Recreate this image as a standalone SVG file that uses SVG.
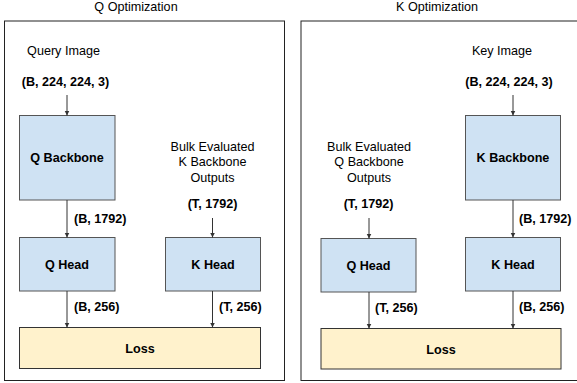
<svg xmlns="http://www.w3.org/2000/svg" width="577" height="383" viewBox="0 0 577 383">
<defs>
<marker id="ah" markerWidth="6" markerHeight="6" refX="5" refY="3" orient="auto" markerUnits="userSpaceOnUse">
<path d="M0,0.5 L5,3 L0,5.5 Z" fill="#333"/>
</marker>
</defs>
<style>
text{font-family:"Liberation Sans",Arial,sans-serif;font-size:12.6px;fill:#000}
.b{font-weight:bold}
.m{text-anchor:middle}
.frame{fill:#fff;stroke:#222;stroke-width:1}
.blue{fill:#cfe2f3;stroke:#555;stroke-width:1}
.loss{fill:#fff2cc;stroke:#333;stroke-width:1}
.c{stroke:#333;stroke-width:1;fill:none;marker-end:url(#ah)}
</style>
<rect width="577" height="383" fill="#fff"/>

<g id="panel-q">
<rect class="frame" x="4.5" y="21" width="280" height="359.5"/>
<text class="m" x="136" y="11">Q Optimization</text>
<text class="m" x="63.5" y="55">Query Image</text>
<text class="b m" x="65.5" y="86">(B, 224, 224, 3)</text>
<text class="m" x="212.5" y="151">Bulk Evaluated</text>
<text class="m" x="212.5" y="166">K Backbone</text>
<text class="m" x="212.5" y="181.5">Outputs</text>
<text class="b m" x="212.5" y="208">(T, 1792)</text>
<text class="b" x="74" y="223">(B, 1792)</text>
<text class="b" x="74" y="311">(B, 256)</text>
<text class="b" x="219" y="311">(T, 256)</text>
</g>
<g id="q-backbone">
<rect class="blue" x="19.5" y="115.5" width="95.5" height="84.5"/>
<text class="b m" x="67" y="162">Q Backbone</text>
</g>
<g id="q-head-left">
<rect class="blue" x="19.5" y="237.5" width="95.5" height="53.5"/>
<text class="b m" x="67" y="269">Q Head</text>
</g>
<g id="k-head-left">
<rect class="blue" x="165.5" y="237.5" width="95" height="53.5"/>
<text class="b m" x="213" y="269">K Head</text>
</g>
<g id="loss-left">
<rect class="loss" x="19.5" y="327.5" width="241" height="41"/>
<text class="b m" x="140" y="353">Loss</text>
</g>

<g id="panel-k">
<rect class="frame" x="301" y="21" width="280" height="359.5"/>
<text class="m" x="437" y="11">K Optimization</text>
<text class="m" x="502" y="55">Key Image</text>
<text class="b m" x="509" y="86">(B, 224, 224, 3)</text>
<text class="m" x="369" y="151">Bulk Evaluated</text>
<text class="m" x="369" y="166">Q Backbone</text>
<text class="m" x="369" y="181.5">Outputs</text>
<text class="b m" x="368.5" y="208">(T, 1792)</text>
<text class="b" x="519" y="223">(B, 1792)</text>
<text class="b" x="375" y="312">(T, 256)</text>
<text class="b" x="519" y="311">(B, 256)</text>
</g>
<g id="k-backbone">
<rect class="blue" x="465.5" y="115.5" width="95" height="84.5"/>
<text class="b m" x="513" y="162">K Backbone</text>
</g>
<g id="q-head-right">
<rect class="blue" x="321" y="238.5" width="95" height="53.5"/>
<text class="b m" x="368.5" y="270">Q Head</text>
</g>
<g id="k-head-right">
<rect class="blue" x="465.5" y="237.5" width="95" height="53.5"/>
<text class="b m" x="513" y="269">K Head</text>
</g>
<g id="loss-right">
<rect class="loss" x="321" y="328.5" width="240" height="40.5"/>
<text class="b m" x="441" y="354">Loss</text>
</g>

<g id="connectors">
<line class="c" x1="67" y1="95" x2="67" y2="115.5"/>
<line class="c" x1="67" y1="200" x2="67" y2="237.5"/>
<line class="c" x1="212.5" y1="218" x2="212.5" y2="237.5"/>
<line class="c" x1="67" y1="291" x2="67" y2="327.5"/>
<line class="c" x1="212.5" y1="291" x2="212.5" y2="327.5"/>
<line class="c" x1="513" y1="95" x2="513" y2="115.5"/>
<line class="c" x1="513" y1="200" x2="513" y2="237.5"/>
<line class="c" x1="369" y1="218" x2="369" y2="238.5"/>
<line class="c" x1="369" y1="292" x2="369" y2="328.5"/>
<line class="c" x1="513" y1="291" x2="513" y2="328.5"/>
</g>
</svg>
